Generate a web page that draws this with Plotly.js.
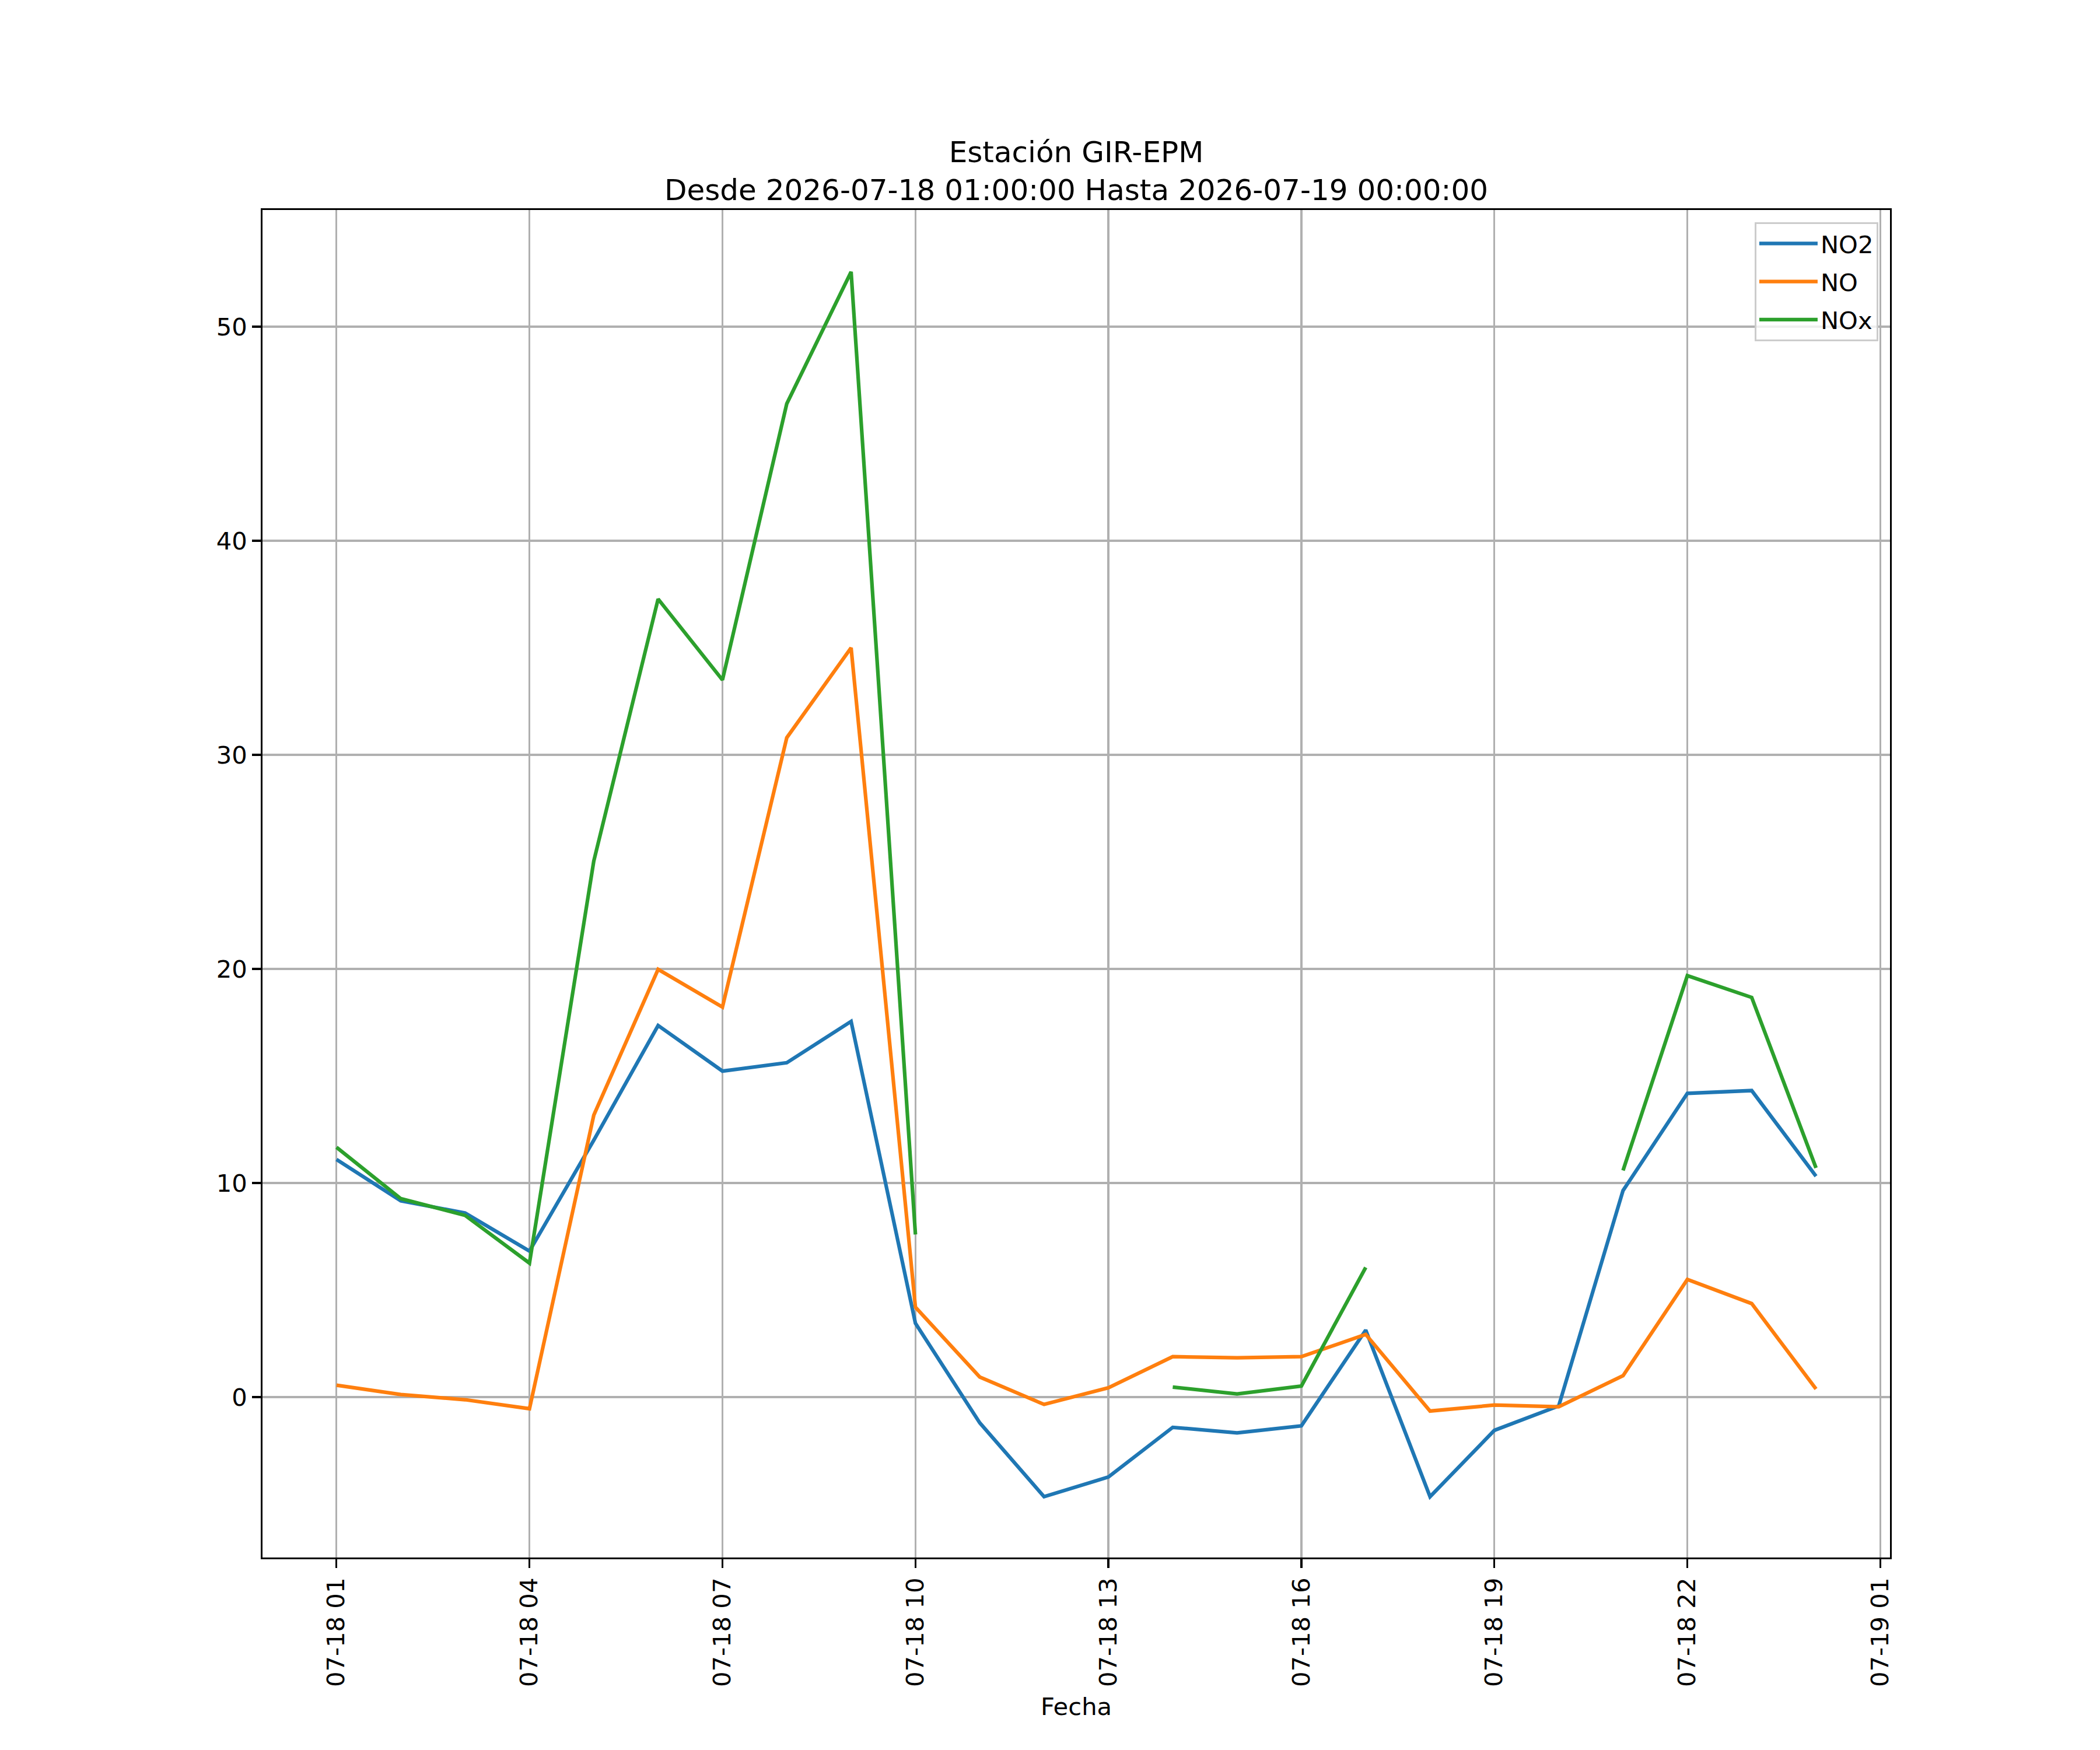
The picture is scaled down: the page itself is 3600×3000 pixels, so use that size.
<!DOCTYPE html>
<html>
<head>
<meta charset="utf-8">
<script src="https://cdn.plot.ly/plotly-3.0.1.min.js"></script>
<style>
  body { margin: 0; background: #fff; }
</style>
</head>
<body>
<div id="chart"></div>
<script>
// hourly samples, 2026-07-18 01:00 .. 2026-07-19 00:00
var fechas = [
  '2026-07-18 01:00', '2026-07-18 02:00', '2026-07-18 03:00', '2026-07-18 04:00',
  '2026-07-18 05:00', '2026-07-18 06:00', '2026-07-18 07:00', '2026-07-18 08:00',
  '2026-07-18 09:00', '2026-07-18 10:00', '2026-07-18 11:00', '2026-07-18 12:00',
  '2026-07-18 13:00', '2026-07-18 14:00', '2026-07-18 15:00', '2026-07-18 16:00',
  '2026-07-18 17:00', '2026-07-18 18:00', '2026-07-18 19:00', '2026-07-18 20:00',
  '2026-07-18 21:00', '2026-07-18 22:00', '2026-07-18 23:00', '2026-07-19 00:00'
];
var no2 = [11.1, 9.17, 8.6, 6.82, 12.0, 17.36, 15.23, 15.62, 17.55, 3.45, -1.2, -4.65,
           -3.73, -1.41, -1.67, -1.34, 3.13, -4.65, -1.55, -0.41, 9.65, 14.19, 14.32, 10.32];
var no = [0.56, 0.12, -0.12, -0.54, 13.17, 19.98, 18.22, 30.8, 35.0, 4.2, 0.94, -0.34,
          0.44, 1.89, 1.84, 1.89, 2.93, -0.65, -0.37, -0.45, 1.0, 5.5, 4.37, 0.38];
var nox = [11.67, 9.27, 8.49, 6.26, 25.04, 37.28, 33.5, 46.4, 52.56, 7.6, null, null,
           null, 0.47, 0.15, 0.52, 6.06, null, null, null, 10.59, 19.69, 18.67, 10.71];

var font = {family: 'DejaVu Sans', size: 41.7, color: '#000'};

// separate legend groups so tracegroupgap spaces the rows like matplotlib
var trace1 = {x: fechas, y: no2, name: 'NO2', mode: 'lines', type: 'scatter', legendgroup: 'a',
  line: {color: '#1f77b4', width: 6.25}, connectgaps: false};
var trace2 = {x: fechas, y: no, name: 'NO', mode: 'lines', type: 'scatter', legendgroup: 'b',
  line: {color: '#ff7f0e', width: 6.25}, connectgaps: false};
var trace3 = {x: fechas, y: nox, name: 'NOx', mode: 'lines', type: 'scatter', legendgroup: 'c',
  line: {color: '#2ca02c', width: 6.25}, connectgaps: false};

var layout = {
  width: 3600,
  height: 3000,
  margin: {l: 450, r: 360, t: 360, b: 330},
  paper_bgcolor: '#fff',
  plot_bgcolor: '#fff',
  font: font,
  showlegend: true,
  title: {
    text: 'Estación GIR-EPM<br>Desde 2026-07-18 01:00:00 Hasta 2026-07-19 00:00:00',
    font: {family: 'DejaVu Sans', size: 50, color: '#000'},
    xref: 'paper', x: 0.5, xanchor: 'center',
    yref: 'paper', y: 1, yanchor: 'bottom',
    pad: {b: 82}
  },
  legend: {
    x: 0.9928, y: 0.991, xanchor: 'right', yanchor: 'top',
    bgcolor: 'rgba(255,255,255,0.8)', bordercolor: '#cccccc', borderwidth: 3,
    font: font, itemwidth: 100, tracegroupgap: 8
  },
  xaxis: {
    type: 'date',
    range: ['2026-07-17 23:51:00', '2026-07-19 01:09:00'],
    tick0: '2026-07-18 01:00', dtick: 3 * 3600000,
    tickformat: '%m-%d %H', tickangle: -90,
    ticks: 'outside', ticklen: 14.6, tickwidth: 3.3, tickcolor: '#000',
    showgrid: true, gridcolor: '#b0b0b0', gridwidth: 3.3,
    showline: true, linecolor: '#000', linewidth: 3.3, mirror: true,
    zeroline: false, tickfont: font,
    title: {text: 'Fecha', font: font, standoff: 20}
  },
  yaxis: {
    range: [-7.49, 55.45],
    tickvals: [0, 10, 20, 30, 40, 50],
    ticks: 'outside', ticklen: 14.6, tickwidth: 3.3, tickcolor: '#000',
    showgrid: true, gridcolor: '#b0b0b0', gridwidth: 3.3,
    showline: true, linecolor: '#000', linewidth: 3.3, mirror: true,
    zeroline: false, tickfont: font
  }
};

Plotly.newPlot('chart', [trace1, trace2, trace3], layout, {staticPlot: true});
</script>
</body>
</html>
